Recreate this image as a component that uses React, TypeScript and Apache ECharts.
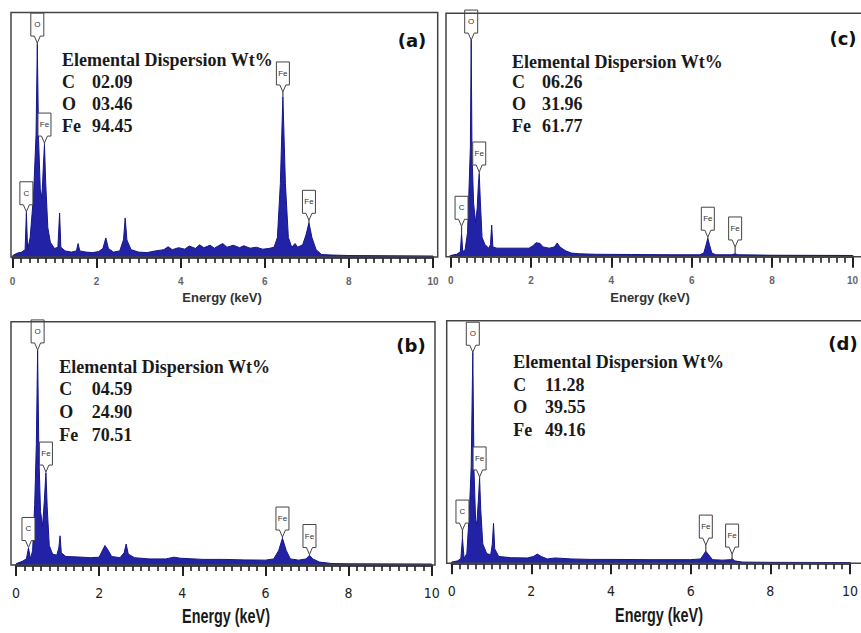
import React, { useEffect, useRef } from "react";
import * as echarts from "echarts";

// Element names and weight percentages for the four samples
const elementNames = ["C", "O", "Fe"];
const wtA = [2.09, 3.46, 94.45];
const wtB = [4.59, 24.9, 70.51];
const wtC = [6.26, 31.96, 61.77];
const wtD = [11.28, 39.55, 49.16];

// EDX spectra: [energy keV, counts as % of full scale]
const spectrumA: [number, number][] = [
  [0.0, 0.5], [0.1, 1.5], [0.22, 2], [0.3, 3], [0.33, 18], [0.36, 3], [0.42, 8],
  [0.5, 25], [0.56, 50], [0.59, 87], [0.62, 48], [0.66, 28], [0.7, 24], [0.73, 36],
  [0.76, 46], [0.79, 30], [0.84, 12], [0.9, 6], [1.0, 3.5], [1.08, 4], [1.12, 18],
  [1.15, 4], [1.25, 2.5], [1.4, 2], [1.52, 2.5], [1.56, 5.5], [1.6, 2.5], [1.75, 2],
  [1.9, 1.8], [2.05, 2.2], [2.15, 3.5], [2.22, 7.8], [2.28, 3.5], [2.4, 2], [2.55, 2.5],
  [2.64, 7], [2.68, 16], [2.72, 7], [2.82, 3], [3.0, 2], [3.2, 1.8], [3.4, 2.5],
  [3.6, 3], [3.7, 4.2], [3.8, 3], [3.95, 3.8], [4.1, 3.2], [4.2, 4.5], [4.35, 3.5],
  [4.45, 5], [4.55, 3.8], [4.7, 4.8], [4.8, 3.6], [4.9, 4.6], [5.0, 5.5], [5.1, 4],
  [5.25, 4.8], [5.4, 3.8], [5.5, 4.6], [5.65, 3.6], [5.8, 4], [5.95, 3.2], [6.1, 3.5],
  [6.22, 4], [6.3, 8], [6.37, 30], [6.43, 65.6], [6.49, 30], [6.56, 8], [6.64, 4],
  [6.72, 5.5], [6.78, 4], [6.9, 5], [6.98, 9], [7.05, 14], [7.12, 8], [7.22, 3],
  [7.35, 1], [7.6, 0.8], [8.0, 0.6], [9.0, 0.5], [10.0, 0.4],
];

const spectrumC: [number, number][] = [
  [0.0, 0.5], [0.15, 1], [0.24, 2], [0.27, 9.6], [0.3, 2], [0.36, 3], [0.42, 10],
  [0.46, 30], [0.49, 45], [0.51, 89], [0.53, 42], [0.57, 22], [0.62, 14], [0.66, 20],
  [0.69, 30], [0.71, 34], [0.74, 22], [0.78, 8], [0.85, 5], [0.95, 3.5], [0.99, 5],
  [1.02, 13], [1.05, 4], [1.15, 3.5], [1.4, 3.5], [1.7, 3.5], [1.95, 3.5], [2.05, 4.5],
  [2.12, 5.7], [2.22, 5.5], [2.3, 4], [2.45, 3.5], [2.58, 4], [2.65, 5.6], [2.72, 4],
  [2.85, 2.5], [3.0, 1.5], [3.2, 1.2], [3.6, 1], [4.5, 0.9], [5.5, 0.8], [6.2, 0.8],
  [6.3, 1.5], [6.36, 5], [6.4, 7.6], [6.44, 5], [6.5, 1.5], [6.6, 0.8], [7.0, 0.8],
  [7.08, 1.2], [7.15, 0.8], [8.0, 0.6], [10.0, 0.5],
];

const spectrumB: [number, number][] = [
  [0.0, 0.5], [0.15, 1.5], [0.25, 2.5], [0.3, 7], [0.35, 2.5], [0.4, 6], [0.45, 25],
  [0.49, 50], [0.52, 88], [0.55, 45], [0.59, 22], [0.64, 16], [0.68, 26], [0.72, 38],
  [0.75, 24], [0.8, 8], [0.88, 4.5], [0.98, 4], [1.03, 7], [1.06, 12], [1.09, 5],
  [1.2, 3.5], [1.5, 3.3], [1.8, 3], [2.0, 3.2], [2.08, 6], [2.14, 8], [2.22, 6],
  [2.3, 3.5], [2.5, 3], [2.6, 5], [2.65, 8.6], [2.7, 4.5], [2.85, 3], [3.2, 2.5],
  [3.6, 2.5], [3.8, 3.2], [3.95, 2.8], [4.5, 2.3], [5.0, 2.3], [5.5, 2.1], [6.0, 2],
  [6.2, 2.5], [6.32, 6], [6.41, 11], [6.5, 6], [6.6, 2.5], [6.8, 2], [6.98, 2.5],
  [7.06, 4], [7.14, 2.5], [7.3, 1.2], [7.6, 0.6], [8.0, 0.5], [10.0, 0.4],
];

const spectrumD: [number, number][] = [
  [0.0, 0.5], [0.15, 1], [0.23, 2], [0.27, 10.4], [0.31, 2], [0.38, 4], [0.44, 20],
  [0.49, 40], [0.53, 87], [0.56, 38], [0.6, 18], [0.63, 16], [0.67, 26], [0.7, 35],
  [0.73, 22], [0.78, 8], [0.88, 4], [0.98, 3.5], [1.02, 8], [1.05, 16.5], [1.08, 6],
  [1.18, 2.8], [1.5, 2.3], [1.9, 2.2], [2.05, 2.8], [2.15, 3.8], [2.25, 2.8], [2.4, 1.8],
  [2.6, 2.2], [3.0, 1.8], [3.5, 1.6], [4.0, 1.6], [5.0, 1.5], [6.0, 1.5], [6.25, 1.8],
  [6.32, 3.5], [6.38, 5], [6.45, 3.5], [6.55, 1.5], [6.8, 1.3], [7.0, 1.5], [7.04, 2],
  [7.1, 1], [7.3, 0.5], [8.0, 0.4], [10.0, 0.3],
];

// Peak identifications: [energy, peak top, marker tip, element]
type Peak = [number, number, number, string];
const peaksA: Peak[] = [
  [0.33, 18, 18.5, "C"], [0.59, 87, 87.5, "O"], [0.76, 46, 46.6, "Fe"],
  [6.43, 65.6, 67.5, "Fe"], [7.05, 14, 15, "Fe"],
];
const peaksC: Peak[] = [
  [0.27, 9.6, 12.5, "C"], [0.51, 89, 89, "O"], [0.71, 34, 34.8, "Fe"],
  [6.4, 7.6, 8, "Fe"], [7.08, 1.2, 4, "Fe"],
];
const peaksB: Peak[] = [
  [0.3, 7, 7.2, "C"], [0.52, 88, 88.4, "O"], [0.72, 38, 38.2, "Fe"],
  [6.41, 11, 11.5, "Fe"], [7.06, 4, 4.3, "Fe"],
];
const peaksD: Peak[] = [
  [0.27, 10.4, 13.7, "C"], [0.53, 87, 87, "O"], [0.7, 35, 35.6, "Fe"],
  [6.38, 5, 7.5, "Fe"], [7.04, 2, 3.8, "Fe"],
];

// Energy axis: labelled every 2 keV, ruled every 0.2 keV
const ENERGY_MAX = 10;
const MAJOR_STEP = 2;
const MINOR_PER_MAJOR = 10;
// room kept under the zero line (in % of full scale) for the ruler ticks
const RULER_ROOM = 5;

const BLUE_FILL = "#2222a6";
const BLUE_LINE = "#16168a";

const panels = [
  {
    letter: "(a)", spectrum: spectrumA, peaks: peaksA, wt: wtA, small: true,
    plot: { left: 12.5, top: 12.5, width: 420.5, height: 244.5 },
    frame: { x: 11, y: 12.5, width: 426.7, height: 244.5 },
    text: { x: 62, numX: 92, rows: [60, 81.7, 104, 125.5] },
    letterPos: { x: 412, y: 40 },
    titlePos: { x: 222, y: 297 },
  },
  {
    letter: "(c)", spectrum: spectrumC, peaks: peaksC, wt: wtC, small: true,
    plot: { left: 450.7, top: 13.3, width: 412.8, height: 243.4 },
    frame: { x: 446, y: 13.3, width: 430, height: 243.4 },
    text: { x: 512, numX: 542, rows: [61.7, 81.7, 104, 126] },
    letterPos: { x: 843, y: 38 },
    titlePos: { x: 650, y: 297 },
  },
  {
    letter: "(b)", spectrum: spectrumB, peaks: peaksB, wt: wtB, small: false,
    plot: { left: 16, top: 321.7, width: 415.7, height: 243.3 },
    frame: { x: 11, y: 321.7, width: 424, height: 243.3 },
    text: { x: 59.3, numX: 91.7, rows: [366.7, 389.3, 411.7, 435] },
    letterPos: { x: 411, y: 345 },
    titlePos: { x: 226, y: 616 },
  },
  {
    letter: "(d)", spectrum: spectrumD, peaks: peaksD, wt: wtD, small: false,
    plot: { left: 451.7, top: 320.7, width: 410.8, height: 242.6 },
    frame: { x: 446.7, y: 320.7, width: 430, height: 242.6 },
    text: { x: 513.3, numX: 545, rows: [361.7, 385, 407.3, 430] },
    letterPos: { x: 843, y: 343 },
    titlePos: { x: 659, y: 615 },
  },
];

const SERIF = '"Liberation Serif", "DejaVu Serif", serif';
const SANS = '"Liberation Sans", Arial, sans-serif';
const NARROW = '"DejaVu Sans Condensed", "Liberation Sans", sans-serif';

function fmtWt(v: number) {
  return v.toFixed(2).padStart(5, "0");
}

function buildGraphics() {
  const graphics: any[] = [];
  panels.forEach((p) => {
    graphics.push({
      type: "rect",
      shape: { ...p.frame },
      style: { fill: "none", stroke: "#444", lineWidth: 1.5 },
      z: 10,
    });
    graphics.push({
      type: "text",
      x: p.titlePos.x,
      y: p.titlePos.y,
      scaleX: p.small ? 1 : 0.72,
      style: {
        text: "Energy (keV)",
        fontFamily: SANS,
        fontWeight: "bold",
        fontSize: p.small ? 13 : 20,
        fill: p.small ? "#333" : "#1a1a1a",
        align: "center",
        verticalAlign: "middle",
      },
      z: 20,
    });
    const serifText = (x: number, y: number, text: string) => ({
      type: "text",
      x,
      y,
      style: {
        text,
        fontFamily: SERIF,
        fontWeight: "bold",
        fontSize: 18,
        fill: "#1a1a1a",
        verticalAlign: "middle",
      },
      z: 20,
    });
    graphics.push(serifText(p.text.x, p.text.rows[0], "Elemental Dispersion Wt%"));
    elementNames.forEach((name, j) => {
      graphics.push(serifText(p.text.x, p.text.rows[j + 1], name));
      graphics.push(serifText(p.text.numX, p.text.rows[j + 1], fmtWt(p.wt[j])));
    });
    graphics.push({
      type: "text",
      x: p.letterPos.x,
      y: p.letterPos.y,
      style: {
        text: p.letter,
        fontFamily: '"DejaVu Sans", sans-serif',
        fontWeight: "bold",
        fontSize: 18,
        fill: "#111",
        align: "center",
        verticalAlign: "middle",
      },
      z: 20,
    });
  });
  return graphics;
}

function buildOption() {
  const grids: any[] = [];
  const xAxes: any[] = [];
  const yAxes: any[] = [];
  const series: any[] = [];

  panels.forEach((p, i) => {
    grids.push({
      left: p.plot.left,
      top: p.plot.top,
      width: p.plot.width,
      height: (p.plot.height * (100 + RULER_ROOM)) / 100,
      containLabel: false,
    });
    xAxes.push({
      type: "value",
      gridIndex: i,
      min: 0,
      max: ENERGY_MAX,
      interval: MAJOR_STEP,
      axisLine: { show: true, onZero: true, lineStyle: { color: "#111", width: 2.5 } },
      axisTick: { show: true, inside: false, length: 11, lineStyle: { color: "#222", width: 2 } },
      minorTick: {
        show: true,
        splitNumber: MINOR_PER_MAJOR,
        length: 6,
        lineStyle: { color: "#222", width: 1.6 },
      },
      splitLine: { show: false },
      minorSplitLine: { show: false },
      axisLabel: p.small
        ? { margin: 7, fontSize: 10, fontWeight: "bold", fontFamily: SANS, color: "#666" }
        : { margin: 9, fontSize: 14, fontFamily: NARROW, color: "#222" },
    });
    yAxes.push({
      type: "value",
      gridIndex: i,
      min: -RULER_ROOM,
      max: 100,
      show: false,
      splitLine: { show: false },
    });

    series.push({
      type: "line",
      xAxisIndex: i,
      yAxisIndex: i,
      data: p.spectrum,
      symbol: "none",
      lineStyle: { color: BLUE_LINE, width: 1 },
      areaStyle: { color: BLUE_FILL, opacity: 1, origin: 0 },
      z: 2,
    });

    const peaks = p.peaks;
    series.push({
      type: "custom",
      xAxisIndex: i,
      yAxisIndex: i,
      clip: false,
      z: 5,
      data: peaks.map((k) => [k[0], k[1], k[2]]),
      renderItem: (params: any, api: any) => {
        const e = api.value(0);
        const tip = api.coord([e, api.value(2)]);
        const top = api.coord([e, api.value(1)]);
        const px = tip[0];
        const py = tip[1];
        const w = 13;
        const vd = 7;
        const rh = 23;
        const bottom = py - vd;
        const boxTop = bottom - rh;
        const children: any[] = [];
        if (top[1] - py > 0.5) {
          children.push({
            type: "rect",
            shape: { x: px - 0.6, y: py, width: 1.2, height: top[1] - py },
            style: { fill: "#444" },
          });
        }
        children.push({
          type: "polygon",
          shape: {
            points: [
              [px - w / 2, boxTop], [px + w / 2, boxTop], [px + w / 2, bottom],
              [px + 3, bottom], [px, py], [px - 3, bottom], [px - w / 2, bottom],
            ],
          },
          style: { fill: "#fff", stroke: "#444", lineWidth: 1 },
        });
        children.push({
          type: "text",
          style: {
            text: peaks[params.dataIndex][3],
            x: px,
            y: (boxTop + bottom) / 2,
            align: "center",
            verticalAlign: "middle",
            fontSize: 8,
            fontFamily: SANS,
            fill: "#333",
          },
        });
        return { type: "group", children };
      },
    });
  });

  return {
    animation: false,
    backgroundColor: "#ffffff",
    grid: grids,
    xAxis: xAxes,
    yAxis: yAxes,
    series,
    graphic: buildGraphics(),
  };
}

export default function App() {
  const ref = useRef<HTMLDivElement>(null);
  useEffect(() => {
    if (!ref.current) return;
    const chart = echarts.init(ref.current, undefined, { renderer: "svg" });
    chart.setOption(buildOption() as any);
    return () => chart.dispose();
  }, []);
  return (
    <div
      ref={ref}
      style={{ position: "fixed", left: 0, top: 0, width: 861, height: 633, background: "#fff" }}
    />
  );
}
